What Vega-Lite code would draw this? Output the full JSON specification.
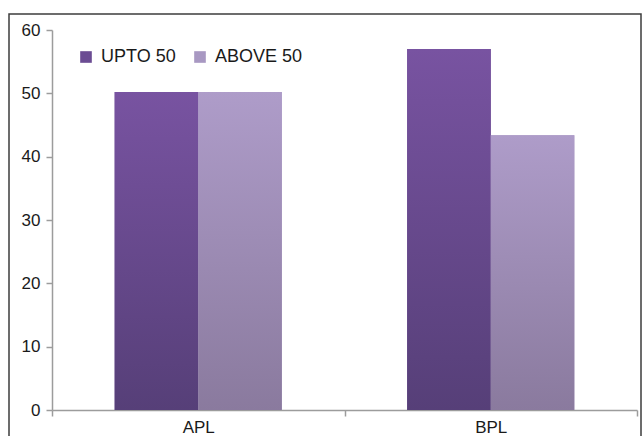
{
  "$schema": "https://vega.github.io/schema/vega-lite/v6.json",
  "width": 585,
  "height": 380,
  "autosize": {"type": "none"},
  "padding": {"left": 52, "top": 30, "right": 5, "bottom": 26},
  "background": "white",
  "data": {
    "values": [
      {"group": "APL", "series": "UPTO 50", "value": 50.2},
      {"group": "APL", "series": "ABOVE 50", "value": 50.2},
      {"group": "BPL", "series": "UPTO 50", "value": 57.0},
      {"group": "BPL", "series": "ABOVE 50", "value": 43.4}
    ]
  },
  "layer": [
    {
      "data": {"values": [{"frame": 1}]},
      "mark": {"type": "rect", "fill": null, "stroke": "#3c3c3c", "strokeWidth": 1.5, "clip": false},
      "encoding": {
        "x": {"value": -43},
        "x2": {"value": 589},
        "y": {"value": -16},
        "y2": {"value": 420}
      }
    },
    {
      "mark": {"type": "bar"},
      "encoding": {
        "x": {
          "field": "group", "type": "nominal", "title": null,
          "scale": {"paddingInner": 0, "paddingOuter": 0},
          "axis": {"labelAngle": 0, "tickBand": "extent", "tickSize": 6, "labelPadding": 3}
        },
        "xOffset": {
          "field": "series", "type": "nominal",
          "scale": {"domain": ["UPTO 50", "ABOVE 50"], "paddingInner": 0, "paddingOuter": 0.75}
        },
        "y": {
          "field": "value", "type": "quantitative", "title": null,
          "scale": {"domain": [0, 60], "nice": false},
          "axis": {"values": [0, 10, 20, 30, 40, 50, 60], "grid": false, "tickSize": 6, "labelPadding": 6}
        },
        "color": {
          "field": "series", "type": "nominal",
          "scale": {"domain": ["UPTO 50", "ABOVE 50"], "range": ["#6B4C93", "#A898C2"]},
          "legend": {
            "title": null, "orient": "none", "direction": "horizontal",
            "legendX": 25, "legendY": 18,
            "symbolType": "square", "symbolSize": 135, "symbolStrokeWidth": 0,
            "labelFontSize": 18, "labelOffset": 6, "columnPadding": 15,
            "labelColor": "#1a1a1a", "labelFont": "Liberation Sans"
          }
        }
      }
    },
    {
      "mark": {"type": "bar"},
      "encoding": {
        "x": {"field": "group", "type": "nominal"},
        "xOffset": {"field": "series", "type": "nominal"},
        "y": {"field": "value", "type": "quantitative"},
        "fill": {
          "condition": {
            "test": "datum.series === 'UPTO 50'",
            "value": {"gradient": "linear", "x1": 0, "y1": 0, "x2": 0, "y2": 1,
              "stops": [{"offset": 0, "color": "#7853A1"}, {"offset": 1, "color": "#563F78"}]}
          },
          "value": {"gradient": "linear", "x1": 0, "y1": 0, "x2": 0, "y2": 1,
            "stops": [{"offset": 0, "color": "#AE9CC9"}, {"offset": 1, "color": "#8A7A9E"}]}
        }
      }
    }
  ],
  "config": {
    "view": {"stroke": null},
    "font": "Liberation Sans",
    "axis": {
      "domainColor": "#9c9c9c", "tickColor": "#9c9c9c", "domainWidth": 1.5, "tickWidth": 1.5,
      "labelFontSize": 17, "labelColor": "#1a1a1a", "labelFont": "Liberation Sans"
    }
  }
}
